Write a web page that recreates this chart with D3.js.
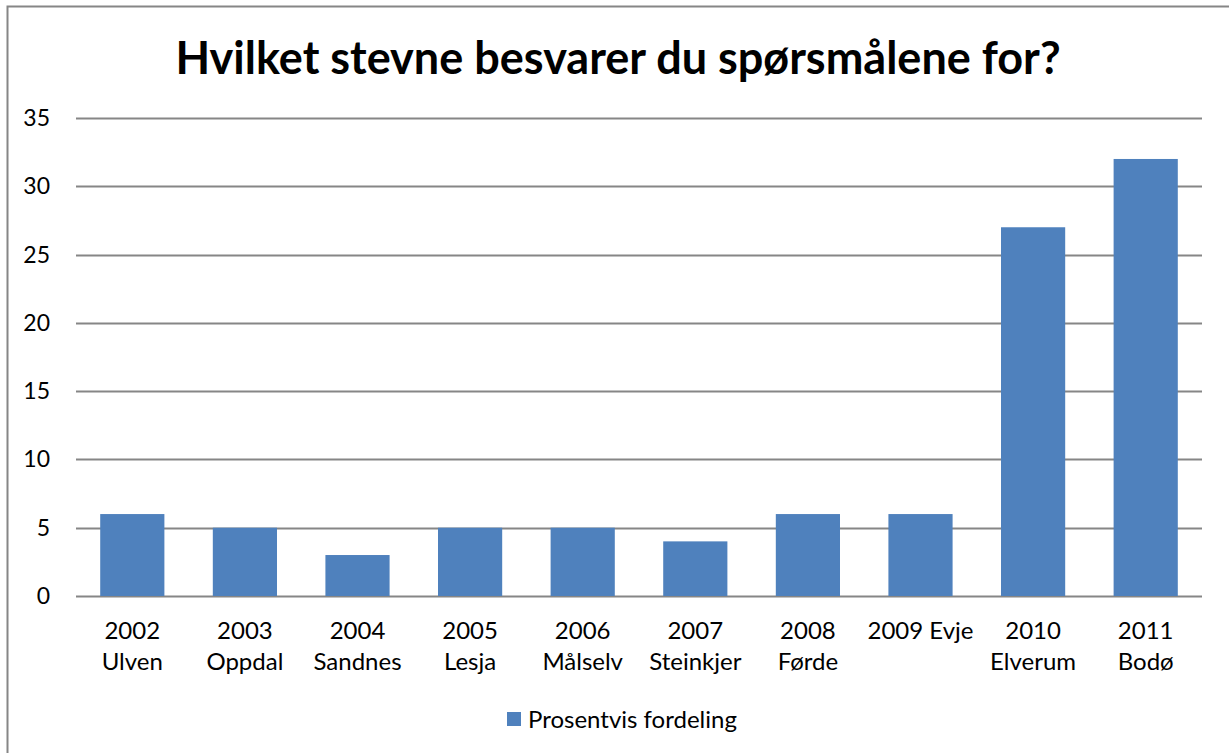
<!DOCTYPE html>
<html>
<head>
<meta charset="utf-8">
<script src="https://cdn.jsdelivr.net/npm/d3@7"></script>
<style>
  body { margin: 0; background: #fff; }
  svg { display: block; font-family: Lato, "Open Sans", sans-serif; }
</style>
</head>
<body>
<div id="chart"></div>
<script>
const categories = [
  ['2002', 'Ulven'], ['2003', 'Oppdal'], ['2004', 'Sandnes'], ['2005', 'Lesja'],
  ['2006', 'Målselv'], ['2007', 'Steinkjer'], ['2008', 'Førde'], ['2009 Evje'],
  ['2010', 'Elverum'], ['2011', 'Bodø']
];
const values = [6, 5, 3, 5, 5, 4, 6, 6, 27, 32];
const yTicks = [0, 5, 10, 15, 20, 25, 30, 35];
const seriesName = 'Prosentvis fordeling';
const title = 'Hvilket stevne besvarer du spørsmålene for?';

const width = 1229, height = 753;
const margin = { left: 76, right: 27, top: 118, bottom: 157 };

const svg = d3.select('#chart').append('svg')
  .attr('width', width)
  .attr('height', height);

// Frame
svg.append('rect')
  .attr('x', 7.5).attr('y', 6.5)
  .attr('width', width + 20).attr('height', height + 20)
  .attr('fill', '#fff')
  .attr('stroke', '#868686')
  .attr('stroke-width', 2);

svg.append('text')
  .attr('x', 618).attr('y', 74)
  .attr('text-anchor', 'middle')
  .attr('font-size', 45)
  .attr('font-weight', 'bold')
  .text(title);

const x = d3.scaleBand()
  .domain(categories.map((d, i) => i))
  .range([margin.left, width - margin.right])
  .paddingInner(0.43)
  .paddingOuter(0.215);

const y = d3.scaleLinear()
  .domain([0, 35])
  .range([height - margin.bottom, margin.top]);

// Gridlines
svg.append('g')
  .selectAll('line')
  .data(yTicks)
  .join('line')
  .attr('x1', margin.left)
  .attr('x2', width - margin.right)
  .attr('y1', d => Math.round(y(d)) + 0.5)
  .attr('y2', d => Math.round(y(d)) + 0.5)
  .attr('stroke', '#868686')
  .attr('stroke-width', 2);

// Y labels
svg.append('g')
  .selectAll('text')
  .data(yTicks)
  .join('text')
  .attr('x', 50)
  .attr('y', d => y(d) + 8)
  .attr('text-anchor', 'end')
  .attr('font-size', 23)
  .text(d => d);

// Bars
svg.append('g')
  .selectAll('rect')
  .data(values)
  .join('rect')
  .attr('x', (d, i) => x(i))
  .attr('width', x.bandwidth())
  .attr('y', d => y(d))
  .attr('height', d => y(0) - y(d))
  .attr('fill', '#4f81bd');

// X labels
const xl = svg.append('g')
  .selectAll('text')
  .data(categories)
  .join('text')
  .attr('x', (d, i) => x(i) + x.bandwidth() / 2)
  .attr('y', 639)
  .attr('text-anchor', 'middle')
  .attr('font-size', 24);
xl.selectAll('tspan')
  .data(d => d)
  .join('tspan')
  .attr('x', function() { return d3.select(this.parentNode).attr('x'); })
  .attr('dy', (d, i) => i === 0 ? 0 : 31)
  .text(d => d);

// Legend
const lg = svg.append('g');
lg.append('rect')
  .attr('x', 507).attr('y', 712)
  .attr('width', 14).attr('height', 14)
  .attr('fill', '#4f81bd');
lg.append('text')
  .attr('x', 528).attr('y', 728)
  .attr('font-size', 24)
  .text(seriesName);
</script>
</body>
</html>
